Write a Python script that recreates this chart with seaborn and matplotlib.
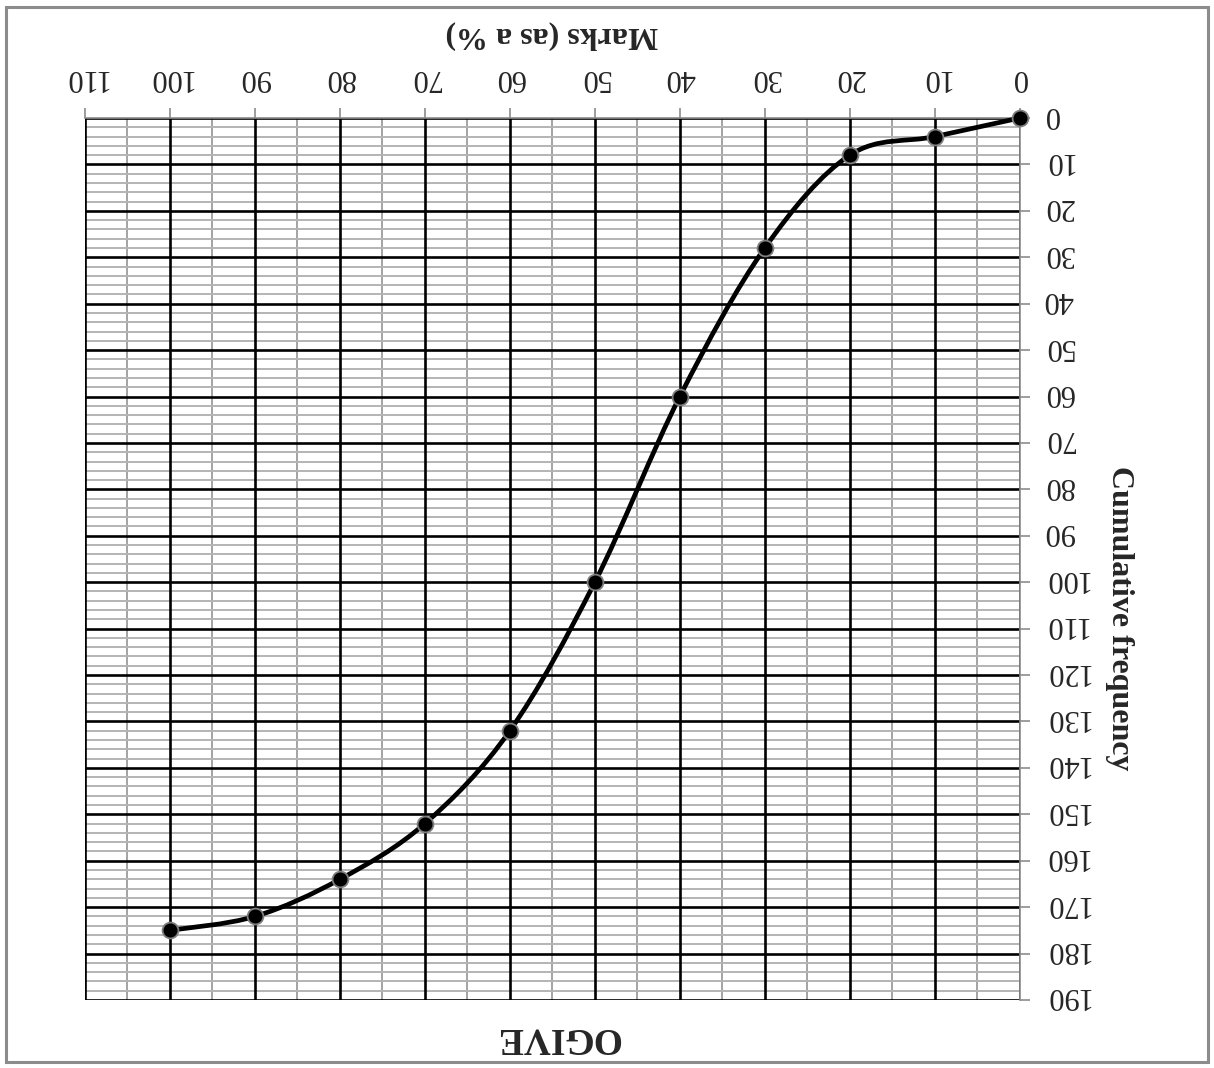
import numpy as np
import pandas as pd
import matplotlib
matplotlib.use("Agg")
import matplotlib.pyplot as plt
from matplotlib.path import Path
from matplotlib.patches import PathPatch, Rectangle
from matplotlib.ticker import MultipleLocator
from matplotlib.transforms import ScaledTranslation
import seaborn as sns

# -------------------------
# Data
# -------------------------
marks = [0, 10, 20, 30, 40, 50, 60, 70, 80, 90, 100]
cum_freq = [0, 4, 8, 28, 60, 100, 132, 152, 164, 172, 175]
x_ticks = list(range(0, 111, 10))
y_ticks = list(range(0, 191, 10))

df = pd.DataFrame({"marks": marks, "cum_freq": cum_freq})

# -------------------------
# Theme
# -------------------------
sns.set_theme(style="white")
plt.rcParams['font.family'] = ['Liberation Serif', 'DejaVu Serif']

fig = plt.figure(figsize=(12.14, 10.68), dpi=100)
ax = fig.add_axes([0.070, 0.0637, 0.770, 0.8258])

# outer chart border
fig.patches.append(Rectangle((0.005, 0.006), 0.99, 0.987, transform=fig.transFigure,
                             fill=False, edgecolor='#8c8c8c', linewidth=2.2))

# smoothed line (Excel-style bezier through the points)
xs = np.asarray(df["marks"], float)
ys = np.asarray(df["cum_freq"], float)
verts = [(xs[0], ys[0])]
codes = [Path.MOVETO]
n = len(xs)
for i in range(n - 1):
    p0 = (xs[max(i - 1, 0)], ys[max(i - 1, 0)])
    p1 = (xs[i], ys[i])
    p2 = (xs[i + 1], ys[i + 1])
    p3 = (xs[min(i + 2, n - 1)], ys[min(i + 2, n - 1)])
    c1 = (p1[0] + (p2[0] - p0[0]) / 6, p1[1] + (p2[1] - p0[1]) / 6)
    c2 = (p2[0] - (p3[0] - p1[0]) / 6, p2[1] - (p3[1] - p1[1]) / 6)
    verts += [c1, c2, p2]
    codes += [Path.CURVE4] * 3
ax.add_patch(PathPatch(Path(verts, codes), fill=False, edgecolor='black',
                       linewidth=3.4, capstyle='round', joinstyle='round', zorder=4,
                       clip_on=False))

sns.scatterplot(data=df, x="marks", y="cum_freq", ax=ax, s=130, color='black',
                edgecolor='#7f7f7f', linewidth=1.3, zorder=5, legend=False,
                clip_on=False)

# axes: both reversed (picture is upside down)
ax.set_xlim(110, 0)
ax.set_ylim(190, 0)
ax.set_xticks(x_ticks)
ax.set_yticks(y_ticks)
ax.xaxis.set_minor_locator(MultipleLocator(5))
ax.yaxis.set_minor_locator(MultipleLocator(2))

# minor grid from the axes, major grid on top of it
ax.grid(which='minor', axis='x', color='#8a8a8a', linewidth=1.1)
ax.grid(which='minor', axis='y', color='#b4b4b4', linewidth=1.4)
ax.set_axisbelow(True)
for v in x_ticks:
    ax.axvline(v, color='black', linewidth=1.9, zorder=1)
for v in y_ticks:
    ax.axhline(v, color='black', linewidth=1.9, zorder=1)

ax.xaxis.tick_top()
ax.yaxis.tick_right()
ax.tick_params(which='major', direction='out', length=7, width=1.2, color='#8c8c8c',
               labelsize=22)
ax.tick_params(axis='x', which='major', pad=12)
ax.tick_params(axis='y', which='major', pad=10)
ax.tick_params(which='minor', length=0)
for lab in ax.get_xticklabels():
    lab.set_rotation(180)
shift_up = ScaledTranslation(0, 4 / 100, fig.dpi_scale_trans)
for tick in ax.yaxis.get_major_ticks():
    tick.label2.set_rotation(180)
    tick.label2.set_va('center')
    tick.label2.set_transform(tick.label2.get_transform() + shift_up)

for side in ['left', 'bottom']:
    ax.spines[side].set_visible(False)
for side in ['top', 'right']:
    ax.spines[side].set_color('#8c8c8c')
    ax.spines[side].set_linewidth(1.2)
    ax.spines[side].set_zorder(2)

ax.set_xlabel("Marks (as a %)", fontsize=23, fontweight='bold', rotation=180,
              ha='center', va='center')
ax.xaxis.set_label_coords(0.4995, 1.094)
ax.set_ylabel("Cumulative frequency", fontsize=23, fontweight='bold', rotation=-90,
              ha='center', va='center')
ax.yaxis.set_label_coords(1.107, 0.433)

fig.text(0.459, 0.028, "OGIVE", fontsize=27, fontweight='bold', rotation=180,
         ha='center', va='center')

fig.savefig("out.png", dpi=100, facecolor='white')
